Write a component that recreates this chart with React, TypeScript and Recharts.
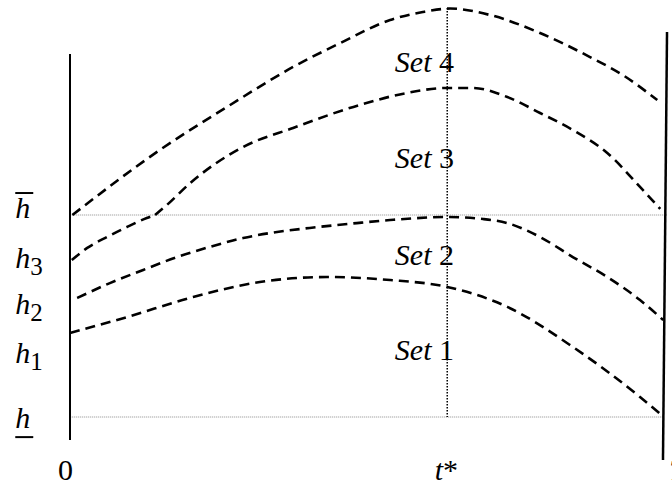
import { ComposedChart, Line, ReferenceLine, Scatter, XAxis, YAxis } from "recharts";

// Time runs from 0 to T = 10, heights are measured from h (underbar) = 0, h (bar) = 10.
const T_END = 10;
const T_STAR = 6.34;
const H_LOW = 0;
const H_HIGH = 10;

// Boundary curves.
const topCurve = [
  { t: 0.04, h: 10.0 },
  { t: 1.51, h: 13.22 },
  { t: 2.64, h: 15.35 },
  { t: 3.75, h: 17.33 },
  { t: 4.54, h: 18.51 },
  { t: 5.38, h: 19.65 },
  { t: 5.93, h: 20.05 },
  { t: 6.39, h: 20.22 },
  { t: 7.06, h: 19.9 },
  { t: 7.9, h: 19.01 },
  { t: 8.74, h: 17.82 },
  { t: 9.29, h: 16.93 },
  { t: 9.87, h: 15.69 },
];

const curve3Low = [
  { t: 0.03, h: 7.77 },
  { t: 0.29, h: 8.37 },
  { t: 0.62, h: 8.91 },
  { t: 0.96, h: 9.41 },
  { t: 1.29, h: 9.85 },
  { t: 1.43, h: 10.0 },
];

const curve3High = [
  { t: 1.43, h: 10.0 },
  { t: 1.63, h: 10.5 },
  { t: 2.02, h: 11.58 },
  { t: 2.91, h: 13.37 },
  { t: 3.75, h: 14.31 },
  { t: 4.87, h: 15.45 },
  { t: 5.66, h: 16.04 },
  { t: 6.34, h: 16.29 },
  { t: 6.77, h: 16.29 },
  { t: 7.35, h: 15.84 },
  { t: 7.9, h: 15.05 },
  { t: 8.45, h: 14.21 },
  { t: 9.03, h: 13.07 },
  { t: 9.58, h: 11.39 },
  { t: 9.92, h: 10.3 },
];

const curve2 = [
  { t: 0.12, h: 5.89 },
  { t: 0.67, h: 6.63 },
  { t: 1.23, h: 7.28 },
  { t: 1.8, h: 7.92 },
  { t: 2.35, h: 8.42 },
  { t: 2.91, h: 8.86 },
  { t: 3.48, h: 9.16 },
  { t: 4.03, h: 9.36 },
  { t: 4.82, h: 9.6 },
  { t: 5.38, h: 9.75 },
  { t: 6.34, h: 9.9 },
  { t: 6.94, h: 9.8 },
  { t: 7.35, h: 9.6 },
  { t: 7.9, h: 8.91 },
  { t: 8.45, h: 7.92 },
  { t: 9.03, h: 6.93 },
  { t: 9.58, h: 5.79 },
  { t: 9.97, h: 4.8 },
];

const curve1 = [
  { t: 0.0, h: 4.16 },
  { t: 0.96, h: 4.95 },
  { t: 2.07, h: 5.94 },
  { t: 3.19, h: 6.68 },
  { t: 4.32, h: 6.93 },
  { t: 5.38, h: 6.78 },
  { t: 6.34, h: 6.44 },
  { t: 7.35, h: 5.45 },
  { t: 8.45, h: 3.47 },
  { t: 9.58, h: 0.99 },
  { t: 9.92, h: 0.15 },
];

// Region names and where they sit.
const setLabels = [
  { t: 5.46, h: 17.08, name: "Set", num: "4" },
  { t: 5.46, h: 12.33, name: "Set", num: "3" },
  { t: 5.46, h: 7.52, name: "Set", num: "2" },
  { t: 5.46, h: 2.82, name: "Set", num: "1" },
];

// Height labels on the left (mark = bar over / bar under).
const levelLabels = [
  { t: -0.92, h: 9.85, base: "h", sub: "", mark: "over" },
  { t: -0.92, h: 7.38, base: "h", sub: "3", mark: "" },
  { t: -0.92, h: 5.1, base: "h", sub: "2", mark: "" },
  { t: -0.92, h: 2.67, base: "h", sub: "1", mark: "" },
  { t: -0.92, h: -0.55, base: "h", sub: "", mark: "under" },
];

// Time labels under the axis.
const timeLabels = [
  { t: -0.2, h: -3.12, text: "0", italic: false },
  { t: 6.13, h: -3.12, text: "t", star: true, italic: true },
  { t: 10.07, h: -3.12, text: "T", italic: true },
];

const FONT = "'Liberation Serif', serif";
const FS = 30;
const textStyle = { fontFamily: FONT, fontSize: FS };
const dash = { stroke: "#000", strokeWidth: 2.6, strokeDasharray: "10 6", dot: false, isAnimationActive: false, type: "monotone" as const, dataKey: "h" };

function SetLabel(props: any) {
  const { cx, cy, payload } = props;
  return (
    <text x={cx} y={cy} style={textStyle} fill="#000">
      <tspan style={{ fontStyle: "italic" }}>{payload.name}</tspan>
      <tspan> {payload.num}</tspan>
    </text>
  );
}

function LevelLabel(props: any) {
  const { cx, cy, payload } = props;
  return (
    <g>
      <text x={cx} y={cy} style={textStyle} fill="#000">
        <tspan style={{ fontStyle: "italic" }}>{payload.base}</tspan>
        {payload.sub ? (
          <tspan style={{ fontSize: 25 }} dy={7}>
            {payload.sub}
          </tspan>
        ) : null}
      </text>
      {payload.mark === "over" ? (
        <line x1={cx} x2={cx + 18} y1={cy - 25} y2={cy - 25} stroke="#000" strokeWidth={2} />
      ) : null}
      {payload.mark === "under" ? (
        <line x1={cx} x2={cx + 18} y1={cy + 9} y2={cy + 9} stroke="#000" strokeWidth={2} />
      ) : null}
    </g>
  );
}

function TimeLabel(props: any) {
  const { cx, cy, payload } = props;
  return (
    <text x={cx} y={cy} style={textStyle} fill="#000">
      <tspan style={{ fontStyle: payload.italic ? "italic" : "normal" }}>{payload.text}</tspan>
      {payload.star ? <tspan>*</tspan> : null}
    </text>
  );
}

export default function App() {
  return (
    <div style={{ width: 672, height: 486, background: "#fff" }}>
      <style>{"body{margin:0}"}</style>
      <ComposedChart width={672} height={486} margin={{ top: 0, right: 0, bottom: 0, left: 0 }}>
        <XAxis type="number" dataKey="t" domain={[-1.1765, 10.1176]} allowDataOverflow hide />
        <YAxis type="number" domain={[-3.4158, 20.6436]} allowDataOverflow hide />

        {/* dotted guides */}
        <ReferenceLine
          segment={[{ x: 0.03, y: H_HIGH }, { x: 10.03, y: H_HIGH }]}
          stroke="#8c8c8c"
          strokeWidth={1}
          strokeDasharray="1 1"
        />
        <ReferenceLine
          segment={[{ x: 0.03, y: H_LOW }, { x: 9.96, y: H_LOW }]}
          stroke="#8c8c8c"
          strokeWidth={1}
          strokeDasharray="1 1"
        />
        <ReferenceLine
          segment={[{ x: T_STAR, y: 20.25 }, { x: T_STAR, y: H_LOW }]}
          stroke="#000"
          strokeWidth={1.5}
          strokeDasharray="1.5 1.5"
        />

        {/* time bounds */}
        <ReferenceLine segment={[{ x: 0, y: 17.97 }, { x: 0, y: -1.14 }]} stroke="#000" strokeWidth={2} />
        <ReferenceLine
          segment={[{ x: T_END + 0.034, y: 19.06 }, { x: T_END - 0.034, y: -2.13 }]}
          stroke="#000"
          strokeWidth={2.5}
        />

        <Line data={topCurve} {...dash} />
        <Line data={curve3Low} {...dash} />
        <Line data={curve3High} {...dash} />
        <Line data={curve2} {...dash} />
        <Line data={curve1} {...dash} />

        <Scatter data={setLabels} dataKey="h" shape={SetLabel} isAnimationActive={false} />
        <Scatter data={levelLabels} dataKey="h" shape={LevelLabel} isAnimationActive={false} />
        <Scatter data={timeLabels} dataKey="h" shape={TimeLabel} isAnimationActive={false} />
      </ComposedChart>
    </div>
  );
}
